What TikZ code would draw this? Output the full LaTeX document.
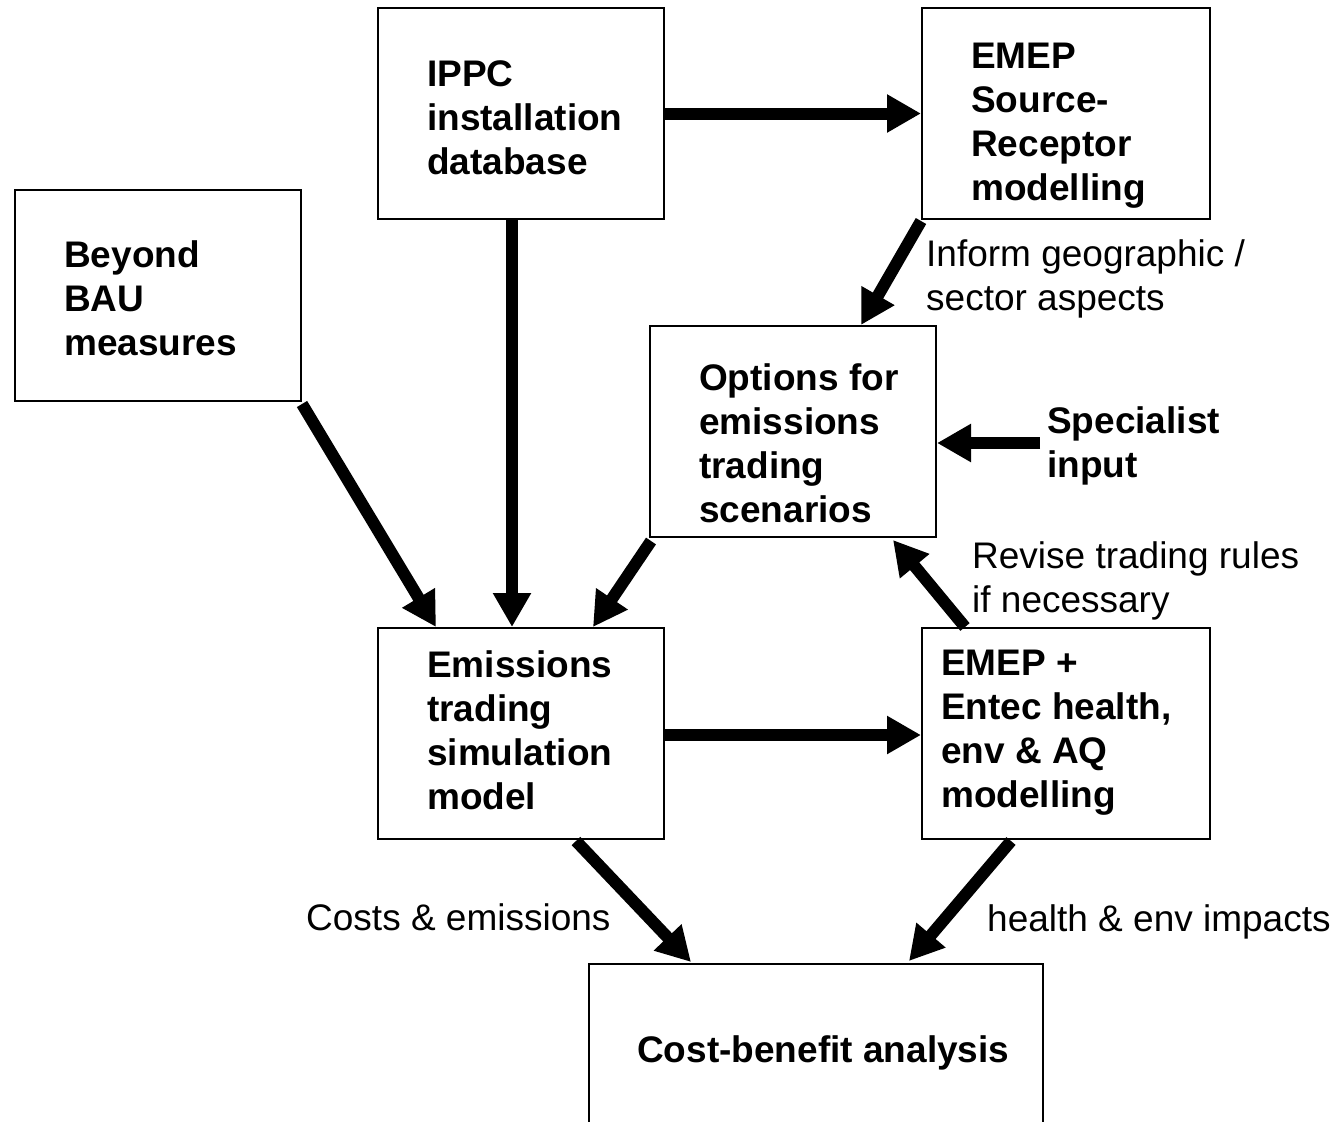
\documentclass[tikz,border=0pt]{standalone}
\usepackage{fontspec}
\setmainfont{Liberation Sans}
\usetikzlibrary{arrows.meta,calc}
\tikzset{
  box/.style={draw=black, line width=2pt, rectangle, inner sep=0pt, minimum height=211pt},
  btxt/.style={inner sep=0pt, anchor=west, align=left, font=\fontsize{37}{44}\selectfont\bfseries},
  fat/.style={line width=12pt, -{Triangle[length=34pt,width=36pt]}},
  lbl/.style={inner sep=0pt, anchor=west, align=left, font=\fontsize{37}{44}\selectfont},
}
\begin{document}
\begin{tikzpicture}[x=1pt,y=-1pt]
\clip (0,0) rectangle (1342,1122);
\fill[white] (0,0) rectangle (1342,1122);
% boxes
\node[box, minimum width=286pt] (ippc) at (521,113.5) {};
\node[box, minimum width=288pt] (emep) at (1066,113.5) {};
\node[box, minimum width=286pt] (bau) at (158,295.5) {};
\node[box, minimum width=286pt] (opt) at (793,431.5) {};
\node[box, minimum width=286pt] (ets) at (521,733.5) {};
\node[box, minimum width=288pt] (entec) at (1066,733.5) {};
\node[box, minimum width=454pt, minimum height=172pt] (cba) at (816,1050) {};
% box texts
\node[btxt] (tippc) at ($(ippc.west)+(50,4)$) {IPPC\\installation\\database};
\node[btxt] (temep) at ($(emep.west)+(50,12)$) {EMEP\\Source-\\Receptor\\modelling};
\node[btxt] (tbau) at ($(bau.west)+(50,3)$) {Beyond\\BAU\\measures};
\node[btxt] (topt) at ($(opt.west)+(50,12)$) {Options for\\emissions\\trading\\scenarios};
\node[btxt] (tets) at ($(ets.west)+(50,-3)$) {Emissions\\trading\\simulation\\model};
\node[btxt] (tentec) at ($(entec.west)+(20,-1)$) {EMEP +\\Entec health,\\env \& AQ\\modelling};
\node[btxt] (tcba) at ($(cba.west)+(49,3)$) {Cost-benefit analysis};
% free labels
\node[lbl, font=\fontsize{37}{44}\selectfont\bfseries] (spec) at (1047,446) {Specialist\\input};
\node[lbl] (l1) at (926,279) {Inform geographic /\\sector aspects};
\node[lbl] (l2) at (972,581) {Revise trading rules\\if necessary};
\node[lbl] (l3) at (306,917) {Costs \& emissions};
\node[lbl] (l4) at (987,922) {health \& env impacts};
% connectors
\draw[fat] (ippc.east) -- (emep.west);
\draw[fat] ($(ippc.south)+(-9,0)$) -- ($(ets.north)+(-9,0)$);
\draw[fat] ($(bau.south east)+(0,2)$) -- ($(ets.north west)+(59,0)$);
\draw[fat] ($(emep.south west)+(0,1)$) -- ($(opt.north west)+(212,0)$);
\draw[fat] ($(opt.south west)+(2,3)$) -- ($(ets.north west)+(216,0)$);
\draw[fat] ($(spec.west)+(-7,-3)$) -- ($(opt.east)+(0,11.5)$);
\draw[fat] ($(entec.north west)+(44,0)$) -- ($(opt.south east)+(-44,2)$);
\draw[fat] ($(ets.east)+(0,1.5)$) -- ($(entec.west)+(0,1.5)$);
\draw[fat] ($(ets.south west)+(199,1)$) -- ($(cba.north west)+(103,-1)$);
\draw[fat] ($(entec.south west)+(90,1)$) -- ($(cba.north west)+(321,-2)$);
\end{tikzpicture}
\end{document}
